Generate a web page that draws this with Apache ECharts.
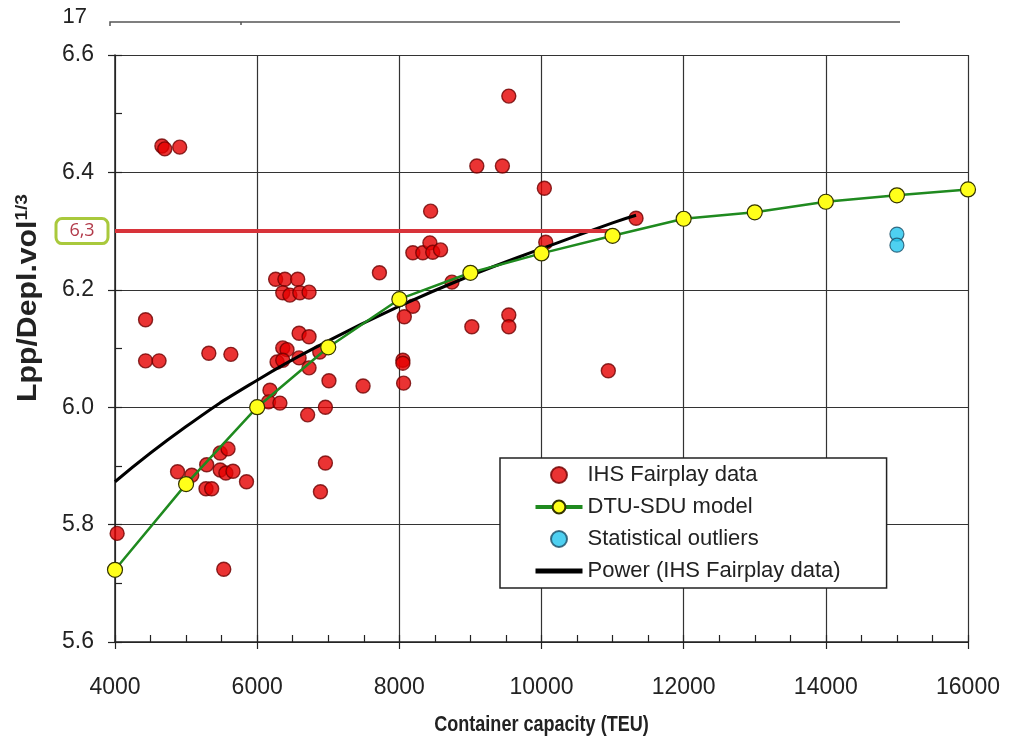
<!DOCTYPE html>
<html>
<head>
<meta charset="utf-8">
<script src="https://cdn.jsdelivr.net/npm/echarts@6/dist/echarts.min.js"></script>
<style>
  html, body { margin: 0; padding: 0; background: #fff; }
  #chart { width: 1011px; height: 749px; }
</style>
</head>
<body>
<div id="chart"></div>
<script>
// IHS Fairplay vessels: [container capacity (TEU), Lpp / displacement volume^(1/3)]
const ihsFairplay = [
  [4030, 5.785],
  [4660, 6.445], [4700, 6.440], [4910, 6.443],
  [4430, 6.149], [4430, 6.079], [4620, 6.079],
  [5320, 6.092], [5630, 6.090],
  [4880, 5.890], [5080, 5.884],
  [5290, 5.902], [5280, 5.861], [5360, 5.861], [5480, 5.922], [5590, 5.929],
  [5480, 5.893], [5560, 5.888], [5660, 5.891], [5850, 5.873],
  [6960, 5.905], [6890, 5.856], [5530, 5.724],
  [6180, 6.029], [6160, 6.009], [6320, 6.007], [6710, 5.987], [6960, 6.000],
  [7010, 6.045], [7490, 6.036],
  [6590, 6.126], [6730, 6.120], [6360, 6.101], [6420, 6.098], [6280, 6.077],
  [6360, 6.080], [6590, 6.084], [6730, 6.067], [6880, 6.094],
  [6260, 6.218], [6390, 6.218], [6570, 6.218], [6360, 6.195], [6460, 6.191],
  [6600, 6.195], [6730, 6.196], [7720, 6.229],
  [9540, 6.530], [9090, 6.411], [9450, 6.411], [10040, 6.373], [8440, 6.334],
  [11330, 6.322], [10060, 6.281],
  [8190, 6.263], [8330, 6.263], [8430, 6.280], [8470, 6.264], [8580, 6.268],
  [8740, 6.213],
  [8190, 6.172], [8070, 6.154], [9020, 6.137], [9540, 6.157], [9540, 6.137],
  [8050, 6.080], [8050, 6.075], [8060, 6.041], [10940, 6.062]
];

// DTU-SDU model curve
const modelCapacity = [4000, 5000, 6000, 7000, 8000, 9000, 10000, 11000, 12000, 13000, 14000, 15000, 16000];
const modelRatio    = [5.723, 5.869, 6.000, 6.102, 6.184, 6.229, 6.262, 6.292, 6.321, 6.332, 6.350, 6.361, 6.371];

// Statistical outliers
const outliers = [[15000, 6.295], [15000, 6.276]];

// Power trend line fitted to the IHS Fairplay data
const powerCapacity = [4000, 5000, 6000, 7000, 8000, 9000, 10000, 11000, 11330];
const powerRatio    = [5.873, 5.967, 6.046, 6.113, 6.172, 6.224, 6.270, 6.314, 6.327];

// Reference level 6,3 and where its marker line ends
const refLevel = 6.3;
const refLabel = '6,3';
const refEndCapacity = 11000;

// Axis ranges, ticks and titles
const xTicks = { min: 4000, max: 16000, major: 2000, minor: 500 };
const yTicks = { min: 5.6, max: 6.6, major: 0.2, minor: 0.1 };
const xTitle = 'Container capacity (TEU)';
const yTitleMain = 'Lpp/Depl.vol';
const yTitleSup = '1/3';

const seriesNames = ['IHS Fairplay data', 'DTU-SDU model', 'Statistical outliers', 'Power (IHS Fairplay data)'];

const zip = (xs, ys) => xs.map((x, i) => [x, ys[i]]);

const FONT = '"Liberation Sans", Arial, sans-serif';

const chart = echarts.init(document.getElementById('chart'), null, { renderer: 'canvas' });

const option = {
  backgroundColor: '#ffffff',
  animation: false,
  textStyle: { fontFamily: FONT },
  grid: { left: 115, right: 43, top: 55, bottom: 107, containLabel: false, outerBoundsMode: 'none' },
  legend: {
    orient: 'vertical',
    left: 500,
    top: 458,
    data: [
      { name: seriesNames[0] },
      { name: seriesNames[1], lineStyle: { width: 4 } },
      { name: seriesNames[2] },
      { name: seriesNames[3], lineStyle: { width: 5 },
        itemStyle: { color: 'rgba(0,0,0,0)', borderColor: 'rgba(0,0,0,0)', borderWidth: 0 } }
    ],
    backgroundColor: '#ffffff',
    borderColor: '#222222',
    borderWidth: 1.5,
    borderRadius: 0,
    padding: [6, 46, 6, 33],
    itemWidth: 47,
    itemHeight: 16,
    itemGap: 10,
    selectedMode: false,
    textStyle: { fontFamily: FONT, fontSize: 22, color: '#222', lineHeight: 22 }
  },
  xAxis: [
    {
      type: 'value',
      min: xTicks.min, max: xTicks.max, interval: xTicks.major,
      axisLine: { show: true, lineStyle: { color: '#222', width: 1.5 } },
      axisTick: { show: true, inside: false, length: 7, lineStyle: { color: '#222', width: 1.2 } },
      axisLabel: { fontFamily: FONT, fontSize: 23, color: '#222', margin: 34, formatter: v => String(v) },
      splitLine: { show: true, lineStyle: { color: '#333', width: 1.2 } }
    },
    {
      // minor ticks pointing into the plot
      type: 'value', position: 'bottom',
      min: xTicks.min, max: xTicks.max, interval: xTicks.minor,
      axisLine: { show: false },
      axisTick: { show: true, inside: true, length: 7, lineStyle: { color: '#222', width: 1.2 } },
      axisLabel: { show: false },
      splitLine: { show: false }
    }
  ],
  yAxis: [
    {
      type: 'value',
      min: yTicks.min, max: yTicks.max, interval: yTicks.major,
      axisLine: { show: true, lineStyle: { color: '#222', width: 1.5 } },
      axisTick: { show: true, inside: false, length: 7, lineStyle: { color: '#222', width: 1.2 } },
      axisLabel: { fontFamily: FONT, fontSize: 23, color: '#222', margin: 21, formatter: v => v.toFixed(1) },
      splitLine: { show: true, lineStyle: { color: '#333', width: 1.2 } }
    },
    {
      type: 'value', position: 'left',
      min: yTicks.min, max: yTicks.max, interval: yTicks.minor,
      axisLine: { show: false },
      axisTick: { show: true, inside: true, length: 7, lineStyle: { color: '#222', width: 1.2 } },
      axisLabel: { show: false },
      splitLine: { show: false }
    }
  ],
  series: [
    {
      name: seriesNames[0],
      type: 'scatter',
      data: ihsFairplay,
      symbol: 'circle',
      symbolSize: 14,
      itemStyle: { color: '#e50000', borderColor: '#6e0000', borderWidth: 1.4 },
      z: 3
    },
    {
      name: seriesNames[3],
      type: 'line',
      data: zip(powerCapacity, powerRatio),
      smooth: true,
      showSymbol: false,
      symbol: 'none',
      lineStyle: { color: '#000000', width: 3 },
      itemStyle: { color: '#000000' },
      z: 4
    },
    {
      name: 'ref',
      type: 'line',
      data: [[xTicks.min, refLevel], [refEndCapacity, refLevel]],
      showSymbol: false,
      symbol: 'none',
      lineStyle: { color: '#d8333a', width: 4 },
      z: 5
    },
    {
      name: seriesNames[1],
      type: 'line',
      data: zip(modelCapacity, modelRatio),
      symbol: 'circle',
      symbolSize: 15,
      showSymbol: true,
      lineStyle: { color: '#1f8a1f', width: 2.5 },
      itemStyle: { color: '#ffff1a', borderColor: '#333300', borderWidth: 1.2 },
      z: 6
    },
    {
      name: seriesNames[2],
      type: 'scatter',
      data: outliers,
      symbol: 'circle',
      symbolSize: 14,
      itemStyle: { color: '#22c4ee', borderColor: '#1d4d66', borderWidth: 1.2 },
      z: 6
    }
  ]
};

chart.setOption(option);

// Axis titles, the boxed reference value and the top strip
const refY = chart.convertToPixel({ yAxisIndex: 0 }, refLevel);
const plotLeft = chart.convertToPixel({ xAxisIndex: 0 }, xTicks.min);
const plotRight = chart.convertToPixel({ xAxisIndex: 0 }, xTicks.max);
const plotBottom = chart.convertToPixel({ yAxisIndex: 0 }, yTicks.min);

chart.setOption({
  graphic: [
    {
      type: 'text',
      x: (plotLeft + plotRight) / 2, y: plotBottom + 83,
      scaleX: 0.82,
      style: { text: xTitle, fill: '#222', font: 'bold 22px ' + FONT, align: 'center', verticalAlign: 'middle' },
      z: 100
    },
    {
      type: 'text',
      x: 29, y: 298,
      rotation: Math.PI / 2,
      scaleX: 1.12,
      style: {
        text: '{m|' + yTitleMain + '}{s|' + yTitleSup + '}',
        align: 'center', verticalAlign: 'middle',
        rich: {
          m: { font: 'bold 27px ' + FONT, fill: '#222', lineHeight: 30 },
          s: { font: 'bold 17px ' + FONT, fill: '#222', lineHeight: 30, verticalAlign: 'top', padding: [0, 0, 12, 0] }
        }
      },
      z: 100
    },
    {
      type: 'rect',
      shape: { x: 56, y: refY - 12.5, width: 52, height: 25, r: 6 },
      style: { fill: '#ffffff', stroke: '#a9c93c', lineWidth: 3 },
      z: 100
    },
    {
      type: 'text',
      x: 82, y: refY,
      style: { text: refLabel, fill: '#b23a4a', font: '18px "Open Sans", "Liberation Sans", sans-serif', align: 'center', verticalAlign: 'middle' },
      z: 101
    },
    {
      type: 'text',
      x: 87, y: 17,
      style: { text: '17', fill: '#222', font: '22px ' + FONT, align: 'right', verticalAlign: 'middle' },
      z: 100
    },
    {
      type: 'polyline',
      shape: { points: [[110, 26], [110, 22], [900, 22]] },
      style: { stroke: '#555', lineWidth: 1.5, fill: null },
      z: 100
    },
    {
      type: 'line',
      shape: { x1: 241, y1: 22, x2: 241, y2: 25 },
      style: { stroke: '#555', lineWidth: 1.5 },
      z: 100
    }
  ]
});
</script>
</body>
</html>
